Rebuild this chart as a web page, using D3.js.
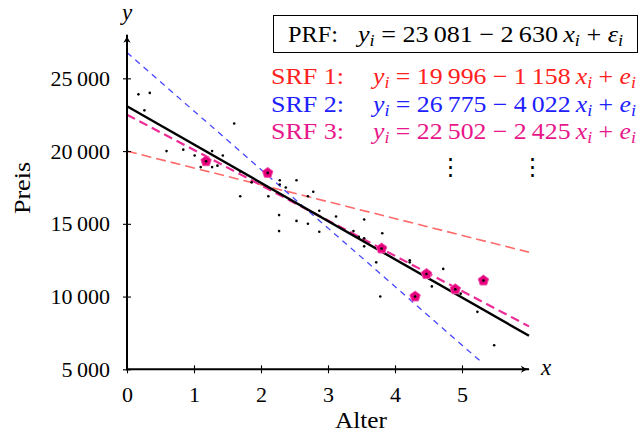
<!DOCTYPE html>
<html>
<head>
<meta charset="utf-8">
<script src="https://cdn.jsdelivr.net/npm/d3@7"></script>
<style>
  body { margin: 0; background: #fff; }
  text { font-family: "Liberation Serif", "DejaVu Serif", serif; }
</style>
</head>
<body>
<div id="chart"></div>
<script>
// data
var alter = [0.17, 0.34, 0.26, 1.60, 0.59, 0.84, 1.01, 1.18, 1.27, 1.43, 1.10, 1.27, 1.35, 1.69, 1.86,
  2.10, 2.28, 2.28, 2.37, 2.53, 2.11, 1.69, 2.70, 2.78, 2.87, 2.27, 2.53, 2.70, 2.27, 2.87,
  3.12, 3.54, 3.38, 3.46, 3.54, 3.54, 3.81, 3.80, 3.72, 4.22, 4.22, 4.72, 4.47, 4.55, 4.90,
  4.98, 5.32, 4.30, 3.78, 5.23, 5.48];
var preis = [23900, 24000, 22800, 21900, 20000, 20100, 19700, 19300, 20000, 19700, 18900, 18900, 19000, 18600, 17850,
  18500, 18000, 17700, 17500, 18000, 16900, 16900, 16900, 17200, 15900, 15600, 15200, 15000, 14500, 14450,
  15500, 15300, 14500, 14100, 14000, 13450, 14350, 13300, 12350, 12500, 12350, 11900, 11550, 10700, 10500,
  10200, 11100, 10000, 10000, 8950, 6650];

// the sample of SRF 3 (pentagons)
var sampleAlter = [1.18, 2.10, 3.80, 4.30, 4.47, 4.90, 5.32];
var samplePreis = [19300, 18500, 13300, 10000, 11550, 10500, 11100];

var lineNames = ["PRF", "SRF 1", "SRF 2", "SRF 3"];
var intercepts = [23081, 19996, 26775, 22502];
var slopes = [-2630, -1158, -4022, -2425];
var lineXEnd = [6, 6, 5.3, 6];
var lineColors = ["#000", "#ff6a6a", "#4646ff", "#ee2a96"];
var textColors = ["#000", "#ff2020", "#2020ff", "#e8168a"];

var xTicks = [0, 1, 2, 3, 4, 5];
var yTicks = [5000, 10000, 15000, 20000, 25000];

var w = 641, h = 433;
var fs = 22;

var x = d3.scaleLinear().domain([0, 6]).range([127, 529]);
var y = d3.scaleLinear().domain([5000, 28000]).range([369.3, 34.7]);

var fmt = d3.formatLocale({ decimal: ".", thousands: "\u2009", grouping: [3], currency: ["", ""] }).format(",d");

var svg = d3.select("#chart").append("svg")
  .attr("width", w)
  .attr("height", h);

svg.append("defs").append("marker")
  .attr("id", "arrow")
  .attr("viewBox", "0 0 10 10")
  .attr("refX", 9).attr("refY", 5)
  .attr("markerWidth", 9).attr("markerHeight", 9)
  .attr("markerUnits", "userSpaceOnUse")
  .attr("orient", "auto")
  .append("path")
  .attr("d", "M0,1 Q5,5 10,5 Q5,5 0,9 L2,5 Z")
  .attr("fill", "#000");

// regression lines
var lineData = lineNames.map(function (n, i) {
  return [[0, intercepts[i]], [lineXEnd[i], intercepts[i] + slopes[i] * lineXEnd[i]]];
});
var dashes = [null, "10,5", "6,5", "9,5"];
var widths = [2.4, 1.6, 1.3, 2.2];
var drawOrder = [1, 2, 3, 0];
drawOrder.forEach(function (i) {
  svg.append("path")
    .attr("d", d3.line().x(d => x(d[0])).y(d => y(d[1]))(lineData[i]))
    .attr("fill", "none")
    .attr("stroke", lineColors[i])
    .attr("stroke-width", widths[i])
    .attr("stroke-dasharray", dashes[i]);
});

// pentagons
function pentagon(r) {
  var pts = d3.range(5).map(function (k) {
    var a = -Math.PI / 2 + k * 2 * Math.PI / 5;
    return [r * Math.cos(a), r * Math.sin(a)];
  });
  return "M" + pts.join("L") + "Z";
}
svg.selectAll(".sample")
  .data(sampleAlter)
  .enter()
  .append("path")
  .attr("class", "sample")
  .attr("d", pentagon(5.5))
  .attr("transform", (d, i) => "translate(" + x(d) + "," + y(samplePreis[i]) + ")")
  .attr("fill", "#e6007e")
  .attr("stroke", "#f050a8")
  .attr("stroke-width", 1);

// data points
svg.selectAll(".dot")
  .data(alter)
  .enter()
  .append("circle")
  .attr("class", "dot")
  .attr("cx", d => x(d))
  .attr("cy", (d, i) => y(preis[i]))
  .attr("r", 1.3)
  .attr("fill", "#000");

// axes
var xAxis = d3.axisBottom(x).tickValues(xTicks).tickSize(4).tickPadding(13).tickFormat(d3.format("d"));
var gx = svg.append("g").attr("transform", "translate(0," + y(5000) + ")").call(xAxis);
gx.select(".domain").remove();
gx.selectAll(".tick line").attr("y1", -4).attr("y2", 4).attr("stroke-width", 1.1);
gx.selectAll(".tick text").attr("font-size", fs).attr("fill", "#000");

var yAxis = d3.axisLeft(y).tickValues(yTicks).tickSize(4).tickPadding(13).tickFormat(fmt);
var gy = svg.append("g").attr("transform", "translate(" + x(0) + ",0)").call(yAxis);
gy.select(".domain").remove();
gy.selectAll(".tick line").attr("x1", -4).attr("x2", 4).attr("stroke-width", 1.1);
gy.selectAll(".tick text").attr("font-size", fs).attr("fill", "#000");

svg.append("line")
  .attr("x1", x(0) - 1).attr("x2", x(6))
  .attr("y1", y(5000)).attr("y2", y(5000))
  .attr("stroke", "#000").attr("stroke-width", 2)
  .attr("marker-end", "url(#arrow)");
svg.append("line")
  .attr("x1", x(0)).attr("x2", x(0))
  .attr("y1", y(5000) + 1).attr("y2", y(28000))
  .attr("stroke", "#000").attr("stroke-width", 2)
  .attr("marker-end", "url(#arrow)");

svg.append("text").attr("x", x(0)).attr("y", 20).attr("text-anchor", "middle")
  .attr("font-size", 23).attr("font-style", "italic").text("y");
svg.append("text").attr("x", 546).attr("y", 375).attr("text-anchor", "middle")
  .attr("font-size", 23).attr("font-style", "italic").text("x");

svg.append("text").attr("x", 335).attr("y", 428)
  .attr("font-size", 24).attr("textLength", 52).attr("lengthAdjust", "spacingAndGlyphs").text("Alter");
svg.append("text").attr("transform", "translate(30,214) rotate(-90)")
  .attr("font-size", 24).attr("textLength", 52).attr("lengthAdjust", "spacingAndGlyphs").text("Preis");

// equations
function equation(g, i, eps, len) {
  var t = g.append("text").attr("fill", textColors[i]).attr("font-size", 23)
    .attr("textLength", len).attr("lengthAdjust", "spacingAndGlyphs");
  t.append("tspan").attr("font-style", "italic").text("y");
  t.append("tspan").attr("font-style", "italic").attr("font-size", 16).attr("dy", 4).text("i");
  t.append("tspan").attr("dy", -4).text(" = " + fmt(intercepts[i]) + " \u2212 " + fmt(-slopes[i]) + "\u2009");
  t.append("tspan").attr("font-style", "italic").text("x");
  t.append("tspan").attr("font-style", "italic").attr("font-size", 16).attr("dy", 4).text("i");
  t.append("tspan").attr("dy", -4).text(" + ");
  t.append("tspan").attr("font-style", "italic").text(eps);
  t.append("tspan").attr("font-style", "italic").attr("font-size", 16).attr("dy", 4).text("i");
  return t;
}

svg.append("rect")
  .attr("x", 273.5).attr("y", 15.5).attr("width", 364).attr("height", 37)
  .attr("fill", "#fff").attr("stroke", "#000").attr("stroke-width", 1);
svg.append("text").attr("x", 288).attr("y", 42).attr("font-size", 23)
  .attr("textLength", 50).attr("lengthAdjust", "spacingAndGlyphs").text("PRF:");
var prf = svg.append("g").attr("transform", "translate(358,42)");
equation(prf, 0, "\u03b5", 265);

var srfBase = [84, 111.5, 139];
[1, 2, 3].forEach(function (i, k) {
  svg.append("text").attr("x", 271).attr("y", srfBase[k]).attr("font-size", 23)
    .attr("textLength", 73).attr("lengthAdjust", "spacingAndGlyphs")
    .attr("fill", textColors[i]).text(lineNames[i] + ":");
  var g = svg.append("g").attr("transform", "translate(373," + srfBase[k] + ")");
  equation(g, i, "e", 263);
});

[450, 532].forEach(function (px) {
  svg.append("text").attr("x", px).attr("y", 174).attr("text-anchor", "middle")
    .attr("font-size", 23).attr("font-family", "DejaVu Serif").text("\u22ee");
});
</script>
</body>
</html>
